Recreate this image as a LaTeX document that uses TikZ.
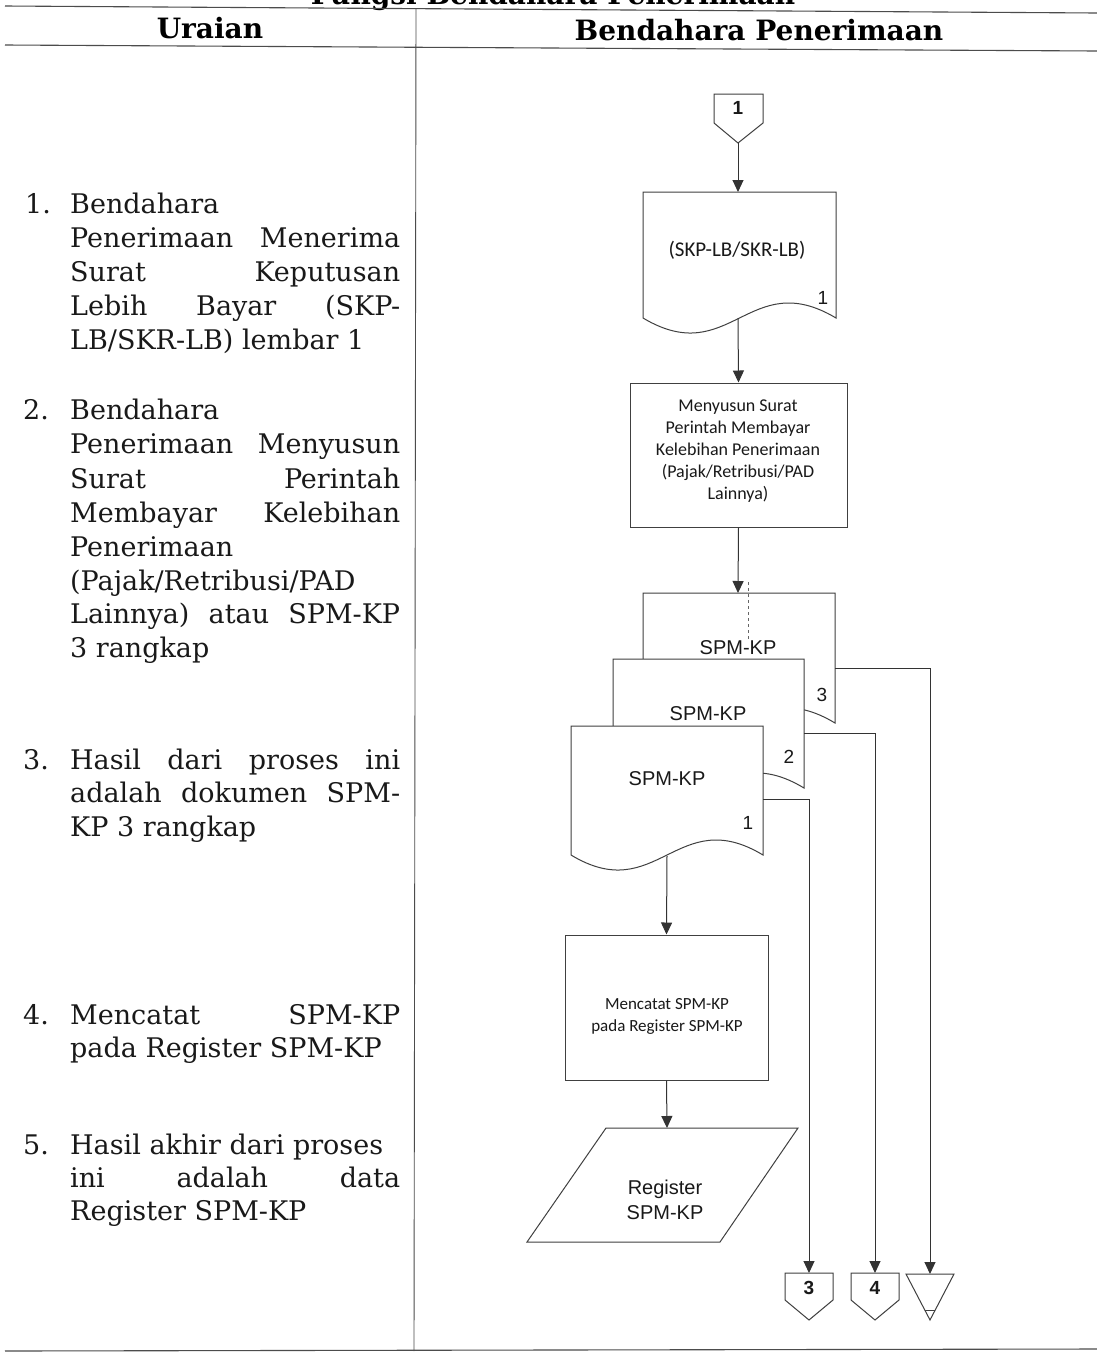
\documentclass[tikz,border=0pt]{standalone}
\usepackage{fontspec}
\setmainfont{DejaVu Serif}
\newfontfamily\arialf{Liberation Sans}
\newfontfamily\calib{Carlito}
\usetikzlibrary{arrows.meta}
\newcommand\bodyf{\fontsize{27}{34}\selectfont}
\newcommand\hdrf{\fontsize{28}{34}\selectfont\bfseries}
\begin{document}
\begin{tikzpicture}[x=1pt,y=-1pt,
  tbl/.style={draw=black!70,line width=1.1pt},
  shp/.style={draw=black!75,line width=1pt,fill=white},
  arr/.style={draw=black!80,line width=1pt,-{Triangle[length=12pt,width=11pt]}},
  ln/.style={draw=black!75,line width=1pt},
  txt/.style={inner sep=0pt,anchor=base west,font=\bodyf,text=black!90},
  num/.style={inner sep=0pt,font=\arialf\bfseries\fontsize{19}{20}\selectfont,text=black!90},
  spm/.style={inner sep=0pt,font=\arialf\fontsize{20}{24}\selectfont,text=black!90},
  ptext/.style={inner sep=0pt,align=center,text=black!90},
  procbox/.style={draw=black!75,line width=1pt,fill=white,inner sep=0pt}]
\useasboundingbox (0,0) rectangle (1097,1361);
\fill[white] (0,0) rectangle (1097,1361);

% ---------- table frame ----------
\node[inner sep=0pt,anchor=base,font=\hdrf] (title) at (553,4) {Fungsi Bendahara Penerimaan};
\coordinate (tl) at (5,6);   \coordinate (tr) at (1097,13);
\coordinate (hl) at (5,45);  \coordinate (hr) at (1097,51);
\coordinate (bl) at (5,1351);\coordinate (br) at (1097,1349);
\coordinate (dt) at (416,8); \coordinate (db) at (414,1351);
\draw[tbl] (tl) -- (tr);
\draw[tbl] (hl) -- (hr);
\draw[tbl] (bl) -- (br);
\draw[tbl,line width=0.9pt] (dt) -- (db);
\node[inner sep=0pt,anchor=base,font=\hdrf] (h1) at (210,38) {Uraian};
\node[inner sep=0pt,anchor=base,font=\hdrf] (h2) at (759,40) {Bendahara Penerimaan};

% ---------- left column ----------
\node[txt] (n1) at (25,213) {1.};
\node[txt] (t11) at (70,213) {Bendahara};
\node[txt] (t12) at (70,247) {\hbox to 330pt{Penerimaan\hfill Menerima}};
\node[txt] (t13) at (70,281) {\hbox to 330pt{Surat\hfill Keputusan}};
\node[txt] (t14) at (70,315) {\hbox to 330pt{Lebih\hfill Bayar\hfill (SKP-}};
\node[txt] (t15) at (70,349) {LB/SKR-LB) lembar 1};

\node[txt] (n2) at (23,419) {2.};
\node[txt] (t21) at (70,419) {Bendahara};
\node[txt] (t22) at (70,453) {\hbox to 330pt{Penerimaan\hfill Menyusun}};
\node[txt] (t23) at (70,488) {\hbox to 330pt{Surat\hfill Perintah}};
\node[txt] (t24) at (70,522) {\hbox to 330pt{Membayar\hfill Kelebihan}};
\node[txt] (t25) at (70,556) {Penerimaan};
\node[txt] (t26) at (70,590) {(Pajak/Retribusi/PAD};
\node[txt] (t27) at (70,623) {\hbox to 330pt{Lainnya)\hfill atau\hfill SPM-KP}};
\node[txt] (t28) at (70,657) {3 rangkap};

\node[txt] (n3) at (23,769) {3.};
\node[txt] (t31) at (70,769) {\hbox to 330pt{Hasil\hfill dari\hfill proses\hfill ini}};
\node[txt] (t32) at (70,802) {\hbox to 330pt{adalah\hfill dokumen\hfill SPM-}};
\node[txt] (t33) at (70,836) {KP 3 rangkap};

\node[txt] (n4) at (23,1024) {4.};
\node[txt] (t41) at (70,1024) {\hbox to 330pt{Mencatat\hfill SPM-KP}};
\node[txt] (t42) at (70,1057) {pada Register SPM-KP};

\node[txt] (n5) at (23,1154) {5.};
\node[txt] (t51) at (70,1154) {Hasil akhir dari proses};
\node[txt] (t52) at (70,1187) {\hbox to 330pt{ini\hfill adalah\hfill data}};
\node[txt] (t53) at (70,1220) {Register SPM-KP};

% ---------- top off-page connector 1 ----------
\coordinate (c1tip) at (738,143);
\draw[shp] (714,94) -- (763,94) -- (763,123) -- (c1tip) -- (714,123) -- cycle;
\node[num] (c1) at (738,108) {1};

% ---------- document SKP-LB ----------
\coordinate (skptop) at (738,192);
\coordinate (skpbot) at (738,318);
\draw[shp] (643,192) -- (836,192) -- (836,318)
  .. controls (749,266) and (730,370) .. (643,318) -- cycle;
\node[inner sep=0pt,font=\calib\fontsize{21}{24}\selectfont,text=black!90] (skp) at (737,250) {(SKP-LB/SKR-LB)};
\node[num,font=\arialf\fontsize{19}{20}\selectfont] (skpn) at (823,298) {1};
\draw[arr] (c1tip) -- (skptop);

% ---------- process 1 ----------
\node[procbox,minimum width=217pt,minimum height=144pt] (box1) at (738.5,455) {};
\node[ptext,font=\calib\fontsize{18}{22}\selectfont] (box1t) at (738,451) {Menyusun Surat\\Perintah Membayar\\Kelebihan Penerimaan\\(Pajak/Retribusi/PAD\\Lainnya)};
\draw[arr] (skpbot) -- (box1.north);

% ---------- stacked documents SPM-KP ----------
\coordinate (d3top) at (738,593);
\draw[shp] (643,593) -- (835,593) -- (835,723)
  .. controls (749,671) and (729,775) .. (643,723) -- cycle;
\draw[arr] (box1.south) -- (d3top);
\draw[dashed,black!60,line width=0.8pt] (748,582) -- (748,640);
\node[spm] (d3t) at (738,648) {SPM-KP};
\node[num,font=\arialf\fontsize{19}{20}\selectfont] (d3n) at (822,695) {3};
\coordinate (d3r) at (835,668);

\draw[shp] (613,659) -- (804,659) -- (804,788)
  .. controls (718,736) and (699,840) .. (613,788) -- cycle;
\node[spm] (d2t) at (708,714) {SPM-KP};
\node[num,font=\arialf\fontsize{19}{20}\selectfont] (d2n) at (789,757) {2};
\coordinate (d2r) at (804,733);

\draw[shp] (571,726) -- (763,726) -- (763,855)
  .. controls (677,803) and (657,907) .. (571,855) -- cycle;
\node[spm] (d1t) at (667,779) {SPM-KP};
\node[num,font=\arialf\fontsize{19}{20}\selectfont] (d1n) at (748,823) {1};
\coordinate (d1r) at (763,799);
\coordinate (d1b) at (667,856);

% ---------- process 2 ----------
\node[procbox,minimum width=203pt,minimum height=145pt] (box2) at (666.5,1007.5) {};
\node[ptext,font=\calib\fontsize{17}{22}\selectfont] (box2t) at (667,1016) {Mencatat SPM-KP\\pada Register SPM-KP};
\draw[arr] (d1b) -- (box2.north);

% ---------- register (data) ----------
\coordinate (regtop) at (667,1128);
\draw[shp] (606,1128) -- (798,1128) -- (720,1242) -- (527,1242) -- cycle;
\node[spm,align=center,font=\arialf\fontsize{20}{25}\selectfont] (reg) at (665,1200) {Register\\SPM-KP};
\draw[arr] (box2.south) -- (regtop);

% ---------- bottom connectors ----------
\coordinate (c3top) at (809,1273);
\coordinate (c4top) at (875,1273);
\coordinate (tritop) at (930,1274);
\draw[shp] (785,1273) -- (833,1273) -- (833,1300) -- (809,1320) -- (785,1300) -- cycle;
\node[num] (c3) at (809,1288) {3};
\draw[shp] (851,1273) -- (899,1273) -- (899,1300) -- (875,1320) -- (851,1300) -- cycle;
\node[num] (c4) at (875,1288) {4};
\draw[shp] (906,1274) -- (954,1274) -- (930,1320) -- cycle;
\draw[ln] (925,1310) -- (935,1310);

\draw[arr] (d1r) -| (c3top);
\draw[arr] (d2r) -| (c4top);
\draw[arr] (d3r) -| (tritop);
\end{tikzpicture}
\end{document}
